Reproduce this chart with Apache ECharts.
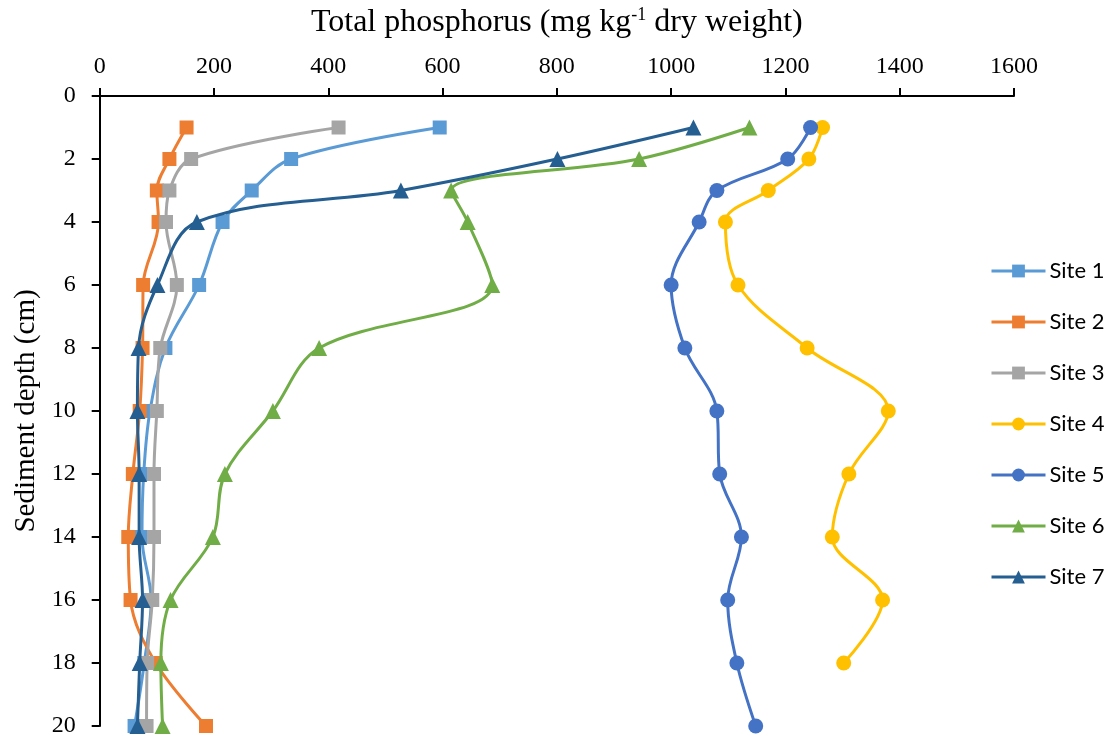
<!DOCTYPE html>
<html>
<head>
<meta charset="utf-8">
<script src="https://cdn.jsdelivr.net/npm/echarts@6/dist/echarts.min.js"></script>
<style>html,body{margin:0;padding:0;background:#fff}#c{width:1107px;height:738px}</style>
</head>
<body>
<div id="c"></div>
<script>
const depths = [1, 2, 3, 4, 6, 8, 10, 12, 14, 16, 18, 20];
const xTicks = [0, 200, 400, 600, 800, 1000, 1200, 1400, 1600];
const yTicks = [0, 2, 4, 6, 8, 10, 12, 14, 16, 18, 20];
const site1 = [595, 335, 266, 215, 174, 115, 88, 77, 74, 90, 78, 61];
const site2 = [152, 122, 100, 103, 76, 75, 70, 58, 50, 54, 98, 186];
const site3 = [418, 160, 122, 116, 135, 106, 100, 95, 95, 92, 83, 82];
const site4 = [1265, 1241, 1170, 1095, 1117, 1238, 1380, 1311, 1282, 1370, 1302, null];
const site5 = [1244, 1204, 1080, 1049, 1000, 1024, 1080, 1085, 1123, 1099, 1115, 1148];
const site6 = [1137, 944, 615, 644, 687, 384, 303, 219, 198, 124, 107, 110];
const site7 = [1039, 801, 527, 170, 101, 68, 66, 69, 69, 75, 70, 66];
const siteNames = ['Site 1', 'Site 2', 'Site 3', 'Site 4', 'Site 5', 'Site 6', 'Site 7'];
const siteValues = [site1, site2, site3, site4, site5, site6, site7];
const siteColors = ['#5B9BD5', '#ED7D31', '#A5A5A5', '#FFC000', '#4472C4', '#70AD47', '#255E91'];
const siteSymbols = ['rect', 'rect', 'rect', 'circle', 'circle', 'triangle', 'triangle'];

const serif = '"Liberation Serif","Times New Roman",serif';
const series = siteNames.map((name, i) => ({
  name: name,
  type: 'line',
  smooth: 0.35,
  data: depths.map((d, j) => siteValues[i][j] == null ? null : [siteValues[i][j], d]).filter(p => p),
  symbol: siteSymbols[i],
  symbolSize: siteSymbols[i] === 'triangle' ? 16 : (siteSymbols[i] === 'rect' ? 14 : 15),
  lineStyle: { color: siteColors[i], width: 3 },
  itemStyle: { color: siteColors[i] },
  z: 2 + i
}));

const chart = echarts.init(document.getElementById('c'), null, { renderer: 'canvas' });
chart.setOption({
  animation: false,
  backgroundColor: '#fff',
  grid: { left: 99.7, right: 93, top: 96, bottom: 9, containLabel: false },
  legend: {
    orient: 'vertical',
    left: 990,
    top: 260,
    padding: 0,
    itemWidth: 54,
    itemHeight: 16,
    itemGap: 29,
    lineStyle: { width: 3 },
    textStyle: { fontFamily: 'Lato, "Open Sans", sans-serif', fontSize: 22, color: '#000', padding: [0, 0, 0, -1] },
    data: siteNames
  },
  xAxis: {
    type: 'value',
    position: 'top',
    min: 0, max: 1600, interval: 200,
    name: '{a|Total phosphorus (mg kg}{s|-1}{a| dry weight)}',
    nameLocation: 'middle',
    nameGap: 56,
    nameTextStyle: {
      rich: {
        a: { fontFamily: serif, fontSize: 32, color: '#000', lineHeight: 34 },
        s: { fontFamily: serif, fontSize: 18, color: '#000', lineHeight: 34, verticalAlign: 'top' }
      }
    },
    axisLine: { show: true, lineStyle: { color: '#000', width: 2 } },
    axisTick: { show: true, inside: false, length: 8, lineStyle: { color: '#000', width: 2 } },
    axisLabel: { fontFamily: serif, fontSize: 24, color: '#000', margin: 17,
      formatter: v => xTicks.includes(v) ? String(v) : '' },
    splitLine: { show: false }
  },
  yAxis: {
    type: 'value',
    inverse: true,
    min: 0, max: 20, interval: 2,
    name: 'Sediment depth (cm)',
    nameLocation: 'middle',
    nameGap: 50,
    nameRotate: 90,
    nameTextStyle: { fontFamily: serif, fontSize: 29, color: '#000' },
    axisLine: { show: true, lineStyle: { color: '#000', width: 2 } },
    axisTick: { show: true, inside: false, length: 8, lineStyle: { color: '#000', width: 2 } },
    axisLabel: { fontFamily: serif, fontSize: 24, color: '#000', margin: 24,
      formatter: v => yTicks.includes(v) ? String(v) : '' },
    splitLine: { show: false }
  },
  series: series
});
</script>
</body>
</html>
